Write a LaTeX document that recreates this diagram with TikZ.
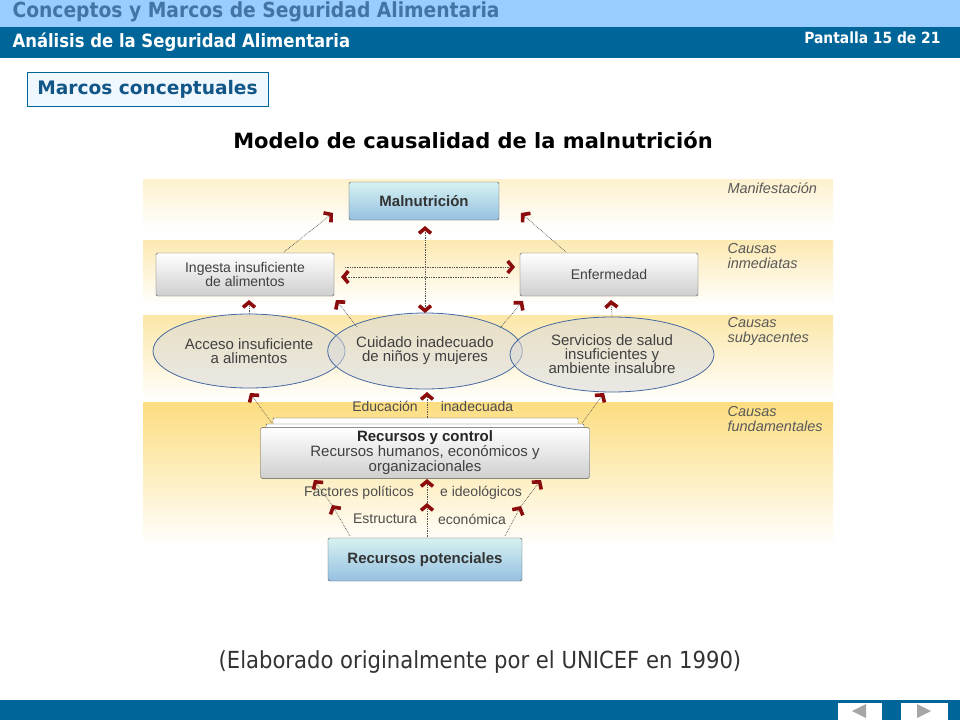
\documentclass[tikz,border=0pt]{standalone}
\usepackage{fontspec}
\setmainfont{Liberation Sans}
\newfontfamily\headfont{DejaVu Sans Condensed}
\newfontfamily\tabfont{DejaVu Sans}
\usetikzlibrary{arrows.meta,shapes.geometric}

\definecolor{skyband}{RGB}{153,204,255}
\definecolor{headblue}{RGB}{0,102,153}
\definecolor{headtext}{RGB}{66,116,166}
\definecolor{tabtext}{RGB}{18,86,136}
\definecolor{tabfill}{RGB}{240,248,255}
\definecolor{arrowred}{RGB}{139,12,12}
\definecolor{ellipseblue}{RGB}{70,105,160}
\definecolor{boxtop}{RGB}{214,242,240}
\definecolor{boxbottom}{RGB}{150,192,226}
\definecolor{bandA}{RGB}{253,241,205}
\definecolor{bandB}{RGB}{252,233,178}
\definecolor{bandC}{RGB}{252,231,168}
\definecolor{bandD}{RGB}{252,221,128}

\begin{document}
\begin{tikzpicture}[x=1pt,y=-1pt,font=\fontsize{14}{14}\selectfont,
    box/.style={draw=gray!65!black,rounded corners=1.5pt,top color=white,
      bottom color=gray!38,minimum width=178pt,minimum height=43pt,
      align=center,text=black!75},
    bluebox/.style={box,top color=boxtop,bottom color=boxbottom,
      font=\fontsize{15}{17}\selectfont\bfseries,text=black!80},
    blob/.style={ellipse,draw=ellipseblue,line width=0.8pt,fill=gray!30,
      fill opacity=0.55,text opacity=1,align=center,text=black!75,
      font=\fontsize{15}{14}\selectfont,inner sep=0pt},
    level/.style={anchor=north west,align=left,text=black!65,
      font=\fontsize{14.5}{15}\selectfont\itshape},
    tip/.tip={Straight Barb[length=5pt,width=12pt,line width=3.6pt,color=arrowred]},
    link/.style={densely dotted,draw=gray!65!black,line width=0.7pt,-tip},
    sheet/.style={draw=gray!65!black,fill=white,rounded corners=1pt}]

  \useasboundingbox (0,0) rectangle (960,720);
  \fill[white] (0,0) rectangle (960,720);

  \fill[skyband] (0,0) rectangle (960,27);
  \fill[headblue] (0,27) rectangle (960,58);
  \node[anchor=west,text=headtext,font=\headfont\fontsize{20.8}{22}\selectfont\bfseries]
    (maintitle) at (9,12) {Conceptos y Marcos de Seguridad Alimentaria};
  \node[anchor=west,text=white,font=\headfont\fontsize{18.3}{20}\selectfont\bfseries]
    (subtitle) at (9,42) {Análisis de la Seguridad Alimentaria};
  \node[anchor=east,text=white,font=\headfont\fontsize{15.4}{17}\selectfont\bfseries]
    (screen) at (944,38) {Pantalla 15 de 21};
  \node[draw=headblue,fill=tabfill,text=tabtext,minimum width=241pt,
    minimum height=34pt,font=\tabfont\fontsize{18.6}{20}\selectfont\bfseries]
    (tab) at (147.5,89) {Marcos conceptuales};
  \node[font=\tabfont\fontsize{21}{23}\selectfont\bfseries]
    (heading) at (473,140) {Modelo de causalidad de la malnutrición};

  \shade[top color=bandA,bottom color=white] (143,179) rectangle (833,229);
  \shade[top color=bandB,bottom color=white] (143,240) rectangle (833,306);
  \shade[top color=bandC,bottom color=white] (143,315) rectangle (833,402);
  \shade[top color=bandD,bottom color=white] (143,402) rectangle (833,547);

  \node[level] (lvlA) at (724,179) {Manifestación};
  \node[level] (lvlB) at (724,240) {Causas\\inmediatas};
  \node[level] (lvlC) at (724,314) {Causas\\subyacentes};
  \node[level] (lvlD) at (724,403) {Causas\\fundamentales};

  \node[bluebox,minimum width=150pt,minimum height=38pt] (malnut) at (424,201) {Malnutrición};
  \node[box] (ingesta) at (245,274.5) {Ingesta insuficiente\\de alimentos};
  \node[box] (enferm) at (609,274.5) {Enfermedad};

  \node[blob,minimum width=192pt,minimum height=74pt] (acceso) at (249,351) {Acceso insuficiente\\a alimentos};
  \node[blob,minimum width=191pt,minimum height=76pt] (cuidado) at (425,351) {Cuidado inadecuado\\de niños y mujeres};
  \node[blob,minimum width=204pt,minimum height=75pt] (servicios) at (612,354.5) {Servicios de salud\\insuficientes y\\ambiente insalubre};

  \draw[sheet] (273,418) rectangle (578,440);
  \draw[sheet] (266,424) rectangle (584,440);
  \node[box,minimum width=329pt,minimum height=45pt,
    font=\fontsize{15}{13.5}\selectfont] (control) at (425,453)
    {\textbf{\color{black!85}Recursos y control}\\Recursos humanos, económicos y\\organizacionales};
  \node[bluebox,minimum width=194pt,minimum height=43pt] (potencial) at (425,559.5) {Recursos potenciales};

  \node[text=black!70] (educ) at (385,406) {Educación};
  \node[text=black!70] (inad) at (477,406) {inadecuada};
  \node[text=black!70] (polit) at (359,493) {Factores políticos};
  \node[text=black!70] (ideol) at (481,493) {e ideológicos};
  \node[text=black!70] (estruc) at (385,519) {Estructura};
  \node[text=black!70] (econ) at (472,519) {económica};

  \coordinate (ingTop) at (284,252);
  \coordinate (ingTip) at (333,213);
  \coordinate (enfTop) at (566,252);
  \coordinate (enfTip) at (521,213);
  \coordinate (ingRight) at (508,277);
  \coordinate (ingLeft) at (341,277);
  \coordinate (enfLeft) at (345,267);
  \coordinate (enfRight) at (515,267);
  \coordinate (estL) at (332,505);
  \coordinate (estC) at (427,503);
  \coordinate (estR) at (521,506);

  \draw[link] (ingTop) -- (ingTip);
  \draw[link] (enfTop) -- (enfTip);
  \draw[link,tip-tip] (425,313) -- (425,226);
  \draw[link] (enfLeft) -- (enfRight);
  \draw[link] (ingRight) -- (ingLeft);

  \draw[link] (acceso.north) -- (249,300);
  \draw[link] (357,327) -- (336,300);
  \draw[link] (500,328) -- (523,301);
  \draw[link] (servicios.north) -- (611,300);

  \draw[link] (272,423) -- (250,393);
  \draw[link] (427,418) -- (427,392);
  \draw[link] (582,423) -- (604,393);

  \draw[link] (350,536) -- (estL);
  \draw[link] (estL) -- (314,480);
  \draw[link] (427,537) -- (estC);
  \draw[link] (estC) -- (427,479);
  \draw[link] (505,536) -- (estR);
  \draw[link] (estR) -- (541,480);

  \node[text=black!80,font=\headfont\fontsize{23.5}{25}\selectfont]
    (caption) at (480,662) {(Elaborado originalmente por el UNICEF en 1990)};

  \fill[headblue] (0,700) rectangle (960,720);
  \node[fill=white,minimum width=44pt,minimum height=17pt,inner sep=0pt] (prevbtn) at (860,711.5) {};
  \node[fill=white,minimum width=47pt,minimum height=17pt,inner sep=0pt] (nextbtn) at (924.5,711.5) {};
  \fill[gray!70] (852,711) -- (866,704) -- (866,718) -- cycle;
  \fill[gray!70] (931,711) -- (917,704) -- (917,718) -- cycle;
\end{tikzpicture}
\end{document}
